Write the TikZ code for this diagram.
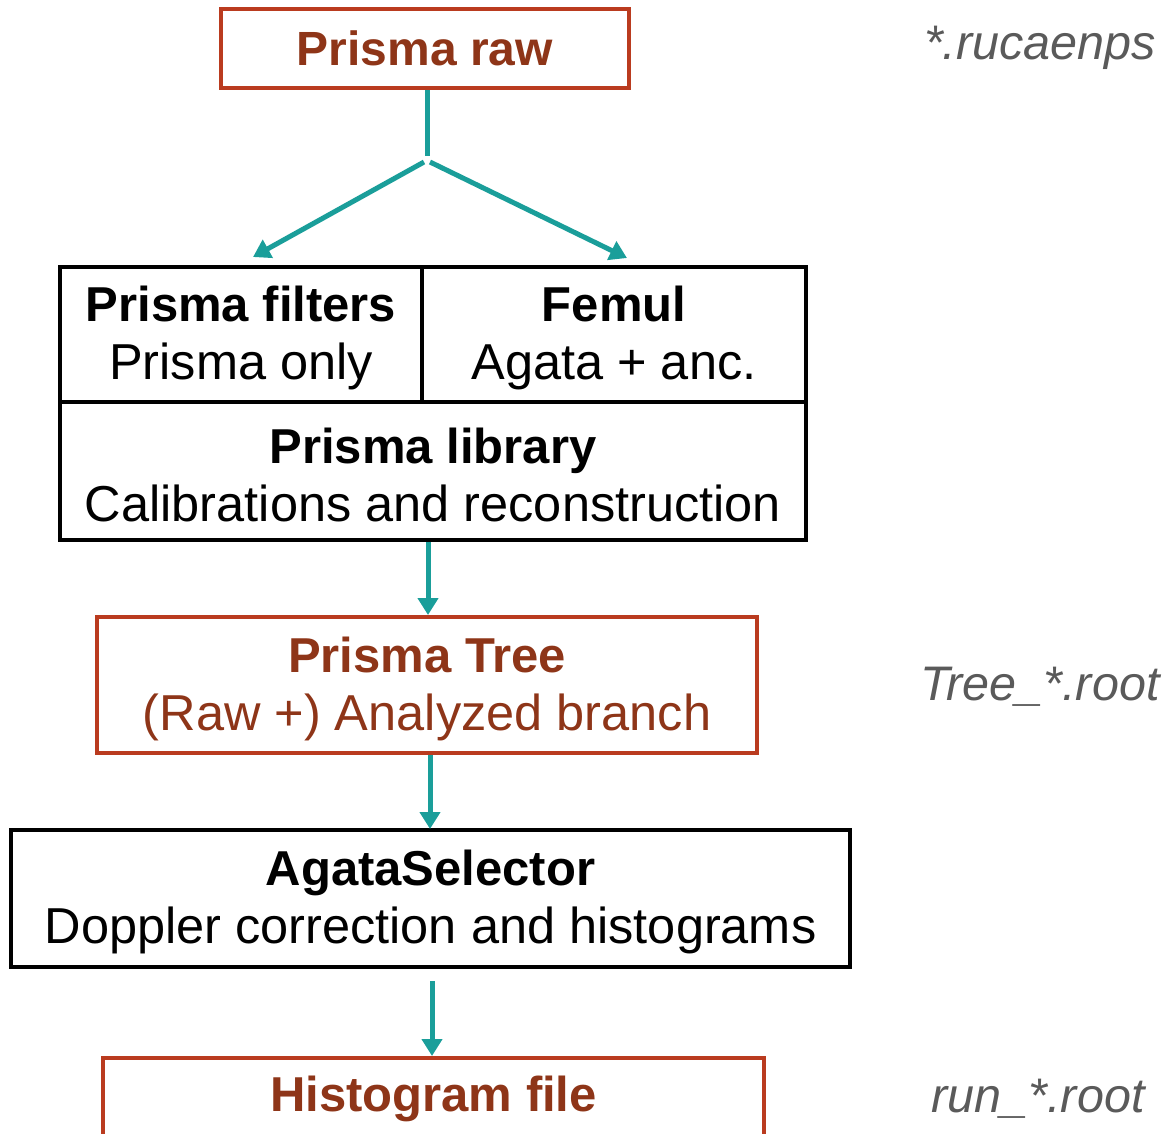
\documentclass[tikz,border=0pt]{standalone}
\usepackage{fontspec}
\setmainfont{Liberation Sans}
\usetikzlibrary{arrows.meta}
\definecolor{boxred}{HTML}{BA3B1F}
\definecolor{txtred}{HTML}{8E3518}
\definecolor{teal2}{HTML}{1A9E9A}
\definecolor{gray2}{HTML}{5A5A5A}
\newcommand{\hd}[1]{{\fontsize{49}{58}\selectfont\bfseries\rule{0pt}{43pt}#1}}
\tikzset{
  redbox/.style={draw=boxred,line width=4pt,text=txtred,inner sep=0pt,align=center},
  blackbox/.style={draw=black,line width=4pt,inner sep=0pt,align=center},
  flow/.style={draw=teal2,line width=5pt,-{Triangle[width=20pt,length=17pt]}},
  flowline/.style={draw=teal2,line width=5pt},
  note/.style={text=gray2,font=\fontsize{48.5}{56}\selectfont\itshape},
  bigtxt/.style={font=\fontsize{50.5}{58}\selectfont}
}
\begin{document}
\begin{tikzpicture}[x=1pt,y=-1pt]
\path[use as bounding box] (0,0) rectangle (1166,1133);
\clip (0,0) rectangle (1166,1133);
% boxes
\node[redbox,minimum width=408pt,minimum height=79pt,font=\fontsize{48}{57}\selectfont\bfseries] (raw) at (425,48.5) {Prisma raw};
\node[blackbox,minimum width=362pt,minimum height=135pt,bigtxt] (filt) at (241,334.5) {\hd{Prisma filters}\\Prisma only};
\node[blackbox,minimum width=384pt,minimum height=135pt,bigtxt] (femul) at (614,334.5) {\hd{Femul}\\Agata + anc.};
\node[blackbox,minimum width=746pt,minimum height=138pt,bigtxt] (lib) at (433,471) {\hd{Prisma library}\\Calibrations and reconstruction};
\node[redbox,minimum width=660pt,minimum height=136pt,bigtxt] (tree) at (427,685) {\hd{Prisma Tree}\\(Raw +) Analyzed branch};
\node[blackbox,minimum width=839pt,minimum height=137pt,bigtxt] (agata) at (430.5,898.5) {\hd{AgataSelector}\\Doppler correction and histograms};
\node[redbox,minimum width=661pt,minimum height=90pt,anchor=north] (hist) at (433.5,1056) {};
\node[text=txtred,font=\fontsize{49}{57}\selectfont\bfseries] (histtxt) at (433.5,1099) {Histogram file};
% notes
\node[note] (n1) at (1040,48) {*.rucaenps};
\node[note] (n2) at (1040,687) {Tree\_*.root};
\node[note] (n3) at (1038,1099) {run\_*.root};
% connectors
\coordinate (sp1) at (427,156);
\coordinate (sp2) at (427,162);
\coordinate (lt) at (253,257);
\coordinate (rt) at (627,258);
\draw[flowline] (raw.south -| sp1) -- (sp1);
\draw[flow] (sp2) ++(-3,0) -- (lt);
\draw[flow] (sp2) ++(3,0) -- (rt);
\draw[flow] (lib.south -| 428,0) -- (428,615);
\draw[flow] (tree.south -| 430,0) -- (430,829);
\coordinate (ag) at (432,981);
\draw[flow] (ag) -- (hist.north -| ag);
\end{tikzpicture}
\end{document}
